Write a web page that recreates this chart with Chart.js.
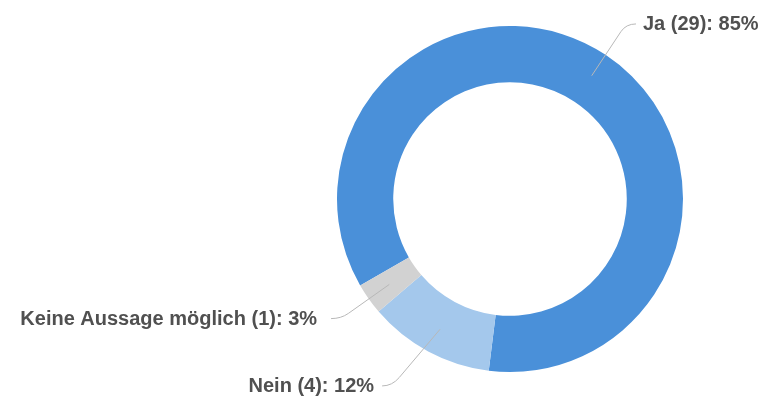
<!DOCTYPE html>
<html>
<head>
<meta charset="utf-8">
<script src="https://cdn.jsdelivr.net/npm/chart.js@4.4.1/dist/chart.umd.min.js"></script>
<style>
  html, body { margin: 0; padding: 0; background: #fff; }
  #wrap { width: 760px; height: 401px; }
</style>
</head>
<body>
<div id="wrap"><canvas id="myChart"></canvas></div>
<script>
// Daten
const labels = ["Ja", "Nein", "Keine Aussage möglich"];
const values = [29, 4, 1];
const colors = ["#4A90D9", "#A4C8EC", "#D2D2D2"];

// Beschriftungen: Seite, Länge der Linie nach außen und kleine Winkelkorrektur
const labelOpts = [
  { side: "right", ext: 37, turn: 0, gap: 17 },
  { side: "left", ext: 48, turn: 4, gap: 18 },
  { side: "left", ext: 34, turn: 0, gap: 24 }
];

const total = values.reduce((a, b) => a + b, 0);

// Plugin fuer die Beschriftungen mit Fuehrungslinien
const leaderLabels = {
  id: "leaderLabels",
  afterDraw(chart) {
    const ctx = chart.ctx;
    const meta = chart.getDatasetMeta(0);
    ctx.save();
    ctx.font = "bold 20px 'Liberation Sans', Arial, sans-serif";
    ctx.fillStyle = "#505050";
    ctx.strokeStyle = "#b8b8b8";
    ctx.lineWidth = 1;
    ctx.textBaseline = "middle";
    meta.data.forEach((arc, i) => {
      const o = labelOpts[i];
      const mid = (arc.startAngle + arc.endAngle) / 2;
      const rMid = (arc.innerRadius + arc.outerRadius) / 2 + 3;
      const ax = arc.x + Math.cos(mid) * rMid;
      const ay = arc.y + Math.sin(mid) * rMid;
      const a2 = mid + o.turn * Math.PI / 180;
      const rOut = arc.outerRadius + o.ext;
      const ex = arc.x + Math.cos(a2) * rOut;
      const ey = arc.y + Math.sin(a2) * rOut;
      const dir = o.side === "right" ? 1 : -1;
      // Linie mit weicher Biegung
      const bx = ax + (ex - ax) * 0.85;
      const by = ay + (ey - ay) * 0.85;
      ctx.beginPath();
      ctx.moveTo(ax, ay);
      ctx.lineTo(bx, by);
      ctx.quadraticCurveTo(ex, ey, ex + dir * 10, ey);
      ctx.stroke();
      const pct = Math.round(values[i] / total * 100);
      const txt = labels[i] + " (" + values[i] + "): " + pct + "%";
      ctx.textAlign = o.side === "right" ? "left" : "right";
      ctx.fillText(txt, ex + dir * o.gap, ey + 1);
    });
    ctx.restore();
  }
};

let canva = document.getElementById("myChart").getContext("2d");

let myChart = new Chart(canva, {
  type: "doughnut",
  data: {
    labels: labels,
    datasets: [
      {
        data: values,
        backgroundColor: colors,
        borderWidth: 0
      }
    ]
  },
  options: {
    responsive: true,
    maintainAspectRatio: false,
    animation: false,
    rotation: -120,
    cutout: "67.5%",
    layout: { padding: { left: 337, right: 77, top: 26, bottom: 29 } },
    plugins: {
      legend: { display: false },
      tooltip: { enabled: false }
    }
  },
  plugins: [leaderLabels]
});
</script>
</body>
</html>
